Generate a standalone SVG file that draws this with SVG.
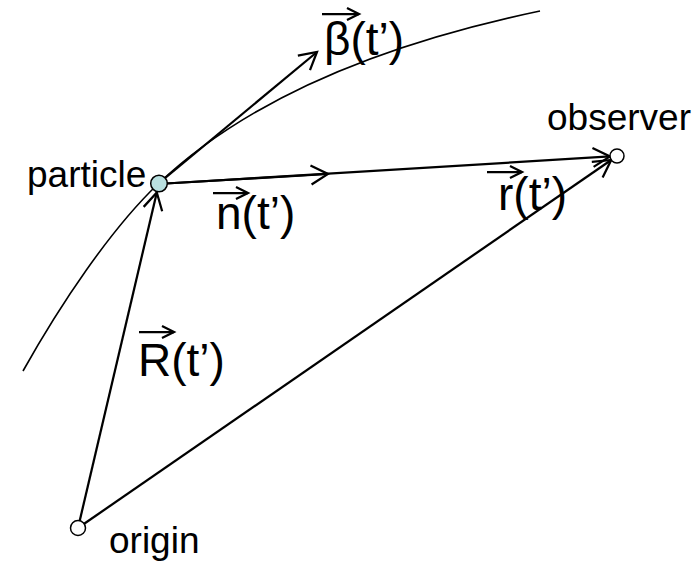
<svg xmlns="http://www.w3.org/2000/svg" width="698" height="561" viewBox="0 0 698 561">
  <style>
    .lbl { font-family: "Liberation Sans", Arial, sans-serif; font-size: 37px; fill: #000; }
    .vec { font-family: "Liberation Sans", Arial, sans-serif; font-size: 46px; fill: #000; }
    .edge { stroke: #000; stroke-width: 2.25; fill: none; marker-end: url(#arr); }
    .acc { stroke: #000; stroke-width: 2.25; fill: none; marker-end: url(#arrs); }
    .node { stroke: #000; stroke-width: 1.5; }
  </style>
  <defs>
    <marker id="arr" markerUnits="userSpaceOnUse" markerWidth="40" markerHeight="40" viewBox="-20 -20 40 40" refX="0" refY="0" orient="auto" overflow="visible">
      <path d="M-17,-9.5 L0,0 L-17,9.5" fill="none" stroke="#000" stroke-width="2.25" stroke-linejoin="miter"/>
    </marker>
    <marker id="arrs" markerUnits="userSpaceOnUse" markerWidth="24" markerHeight="24" viewBox="-12 -12 24 24" refX="0" refY="0" orient="auto" overflow="visible">
      <path d="M-12,-6 L0,0 L-12,6" fill="none" stroke="#000" stroke-width="2.25"/>
    </marker>
  </defs>
  <rect width="698" height="561" fill="#fff"/>

  <g id="trajectory">
    <path d="M23,371 C60,305 110,230 158,184 C220,125 330,55 540,11" fill="none" stroke="#000" stroke-width="1.6"/>
  </g>

  <g id="connectors">
    <line id="beta" class="edge" x1="164" y1="179" x2="317" y2="52"/>
    <line id="n" class="edge" x1="166" y1="183.5" x2="328" y2="174"/>
    <line id="r_p" class="edge" x1="166" y1="183.5" x2="610" y2="156.4"/>
    <line id="R" class="edge" x1="79.6" y1="521.2" x2="156.8" y2="192.5"/>
    <line id="r_o" class="edge" x1="83.8" y1="524" x2="611.2" y2="160"/>
  </g>

  <g id="vector-labels">
    <g id="label-beta">
      <line class="acc" x1="322" y1="14" x2="359" y2="14"/>
      <text class="vec" x="324" y="55">β(t’)</text>
    </g>
    <g id="label-n">
      <line class="acc" x1="213" y1="193" x2="248" y2="193"/>
      <text class="vec" x="216" y="229">n(t’)</text>
    </g>
    <g id="label-r">
      <line class="acc" x1="487" y1="172" x2="522" y2="172"/>
      <text class="vec" x="498" y="210">r(t’)</text>
    </g>
    <g id="label-R">
      <line class="acc" x1="139" y1="332" x2="174" y2="332"/>
      <text class="vec" x="138" y="376">R(t’)</text>
    </g>
  </g>

  <g id="particle">
    <circle class="node" cx="159" cy="183.5" r="8.3" fill="#b9e0e0"/>
    <text class="lbl" x="27" y="187">particle</text>
  </g>
  <g id="observer">
    <circle class="node" cx="617" cy="156" r="7" fill="#fff"/>
    <text class="lbl" x="547" y="130">observer</text>
  </g>
  <g id="origin">
    <circle class="node" cx="78" cy="528" r="7.5" fill="#fff"/>
    <text class="lbl" x="109" y="553">origin</text>
  </g>
</svg>
